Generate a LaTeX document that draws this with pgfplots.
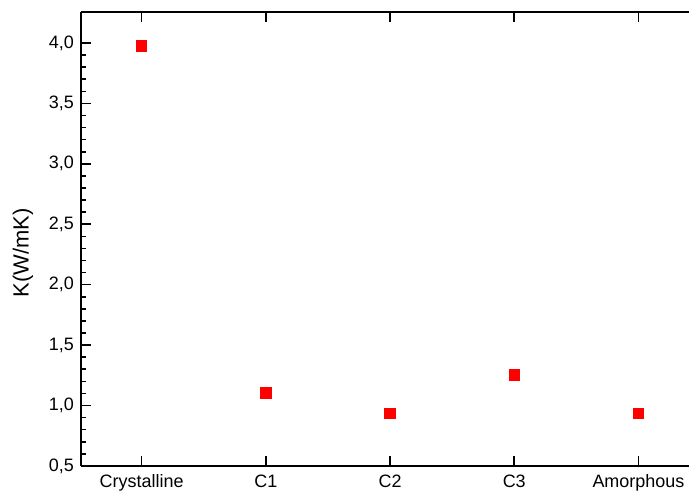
\documentclass[border=0pt]{standalone}
\usepackage{pgfplots}
\pgfplotsset{compat=1.18}
\usepackage{fontspec}
\setmainfont{Liberation Sans}
\begin{document}
\begin{tikzpicture}
\begin{axis}[
  name=ax,
  scale only axis,
  width=305pt, height=227.5pt,
  xmin=-0.49, xmax=4.41,
  ymin=0.5, ymax=4.257,
  axis x line=bottom, axis y line=left,
  axis line style={line width=1pt, -},
  every outer x axis line/.append style={-},
  every outer y axis line/.append style={-},
  xtick={0,1,2,3,4},
  xticklabels={Crystalline,C1,C2,C3,Amorphous},
  ytick={0.5,1,...,4},
  minor y tick num=4,
  tick align=inside,
  major tick length=5pt, minor tick length=2.5pt,
  every tick/.style={black, line width=0.8pt},
  y tick label style={/pgf/number format/.cd, fixed, fixed zerofill, precision=1, use comma},
  /pgf/number format/assume math mode=true,
  tick label style={font=\fontsize{9}{10}\selectfont},
  xticklabel style={yshift=-1pt},
  ylabel={K(W/mK)},
  every axis y label/.style={at={(axis description cs:0,0.469)}, xshift=-29pt, rotate=90, anchor=center, font=\fontsize{11}{12}\selectfont},
  clip=false,
]
\addplot[only marks, mark=square*, mark size=2.6pt, color=red, fill=red]
  coordinates {(0,3.975) (1,1.105) (2,0.937) (3,1.254) (4,0.935)};
\draw[black, line width=1pt] (rel axis cs:0,1) -- (rel axis cs:1,1);
\pgfplotsinvokeforeach{0,1,2,3,4}{
  \draw[black, line width=0.8pt] (axis cs:#1,4.257) -- ++(0pt,-5pt);
}
\end{axis}
\path (ax.south west) ++(-40.5pt,-15pt) coordinate (bb1) ++(345.5pt,248.5pt) coordinate (bb2);
\path (bb1) rectangle (bb2);
\end{tikzpicture}
\end{document}
